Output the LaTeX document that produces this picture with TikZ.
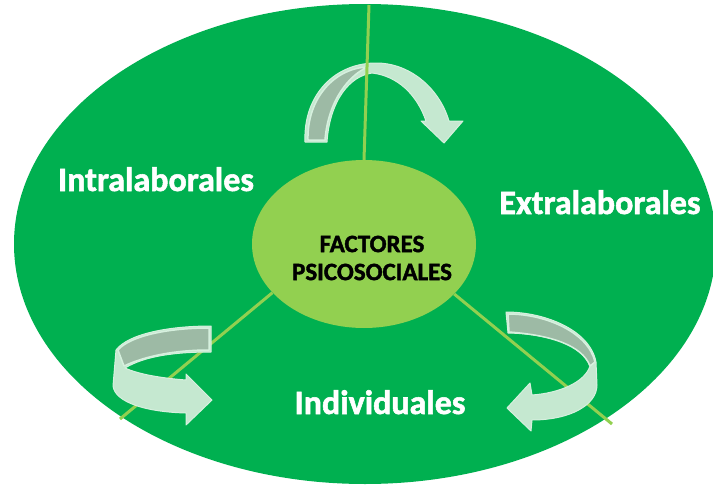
\documentclass[tikz,border=0pt]{standalone}
\usepackage{fontspec}
\setmainfont{Carlito}
\newfontfamily\heavyfont{Carlito}[UprightFont=* Bold, UprightFeatures={FakeBold=1.6}]
\usetikzlibrary{shapes.geometric}
\definecolor{bggreen}{RGB}{0,176,80}
\definecolor{limegreen}{RGB}{146,208,80}
\definecolor{arrowlight}{RGB}{197,232,208}
\definecolor{arrowdark}{RGB}{157,186,165}
\definecolor{arrowedge}{RGB}{214,240,222}
\tikzset{
  outerfield/.style={ellipse, fill=bggreen, minimum width=702pt, minimum height=480pt, inner sep=0pt},
  corefield/.style={ellipse, fill=limegreen, minimum width=224pt, minimum height=168pt, inner sep=0pt},
  titletext/.style={align=center, inner sep=0pt, text=black, font=\heavyfont\fontsize{25}{28}\selectfont},
  spoke/.style={draw=limegreen, line width=3pt},
  factorlabel/.style={text=white, anchor=base, inner sep=0pt, font=\heavyfont\fontsize{34}{34}\selectfont},
  ribbon/.style={fill=arrowlight, draw=arrowedge, line width=1pt, line join=round},
  ribbonback/.style={fill=arrowdark, draw=arrowedge, line width=1.5pt, line join=round},
}
\begin{document}
\begin{tikzpicture}[x=1pt,y=-1pt]
\useasboundingbox (0,0) rectangle (713,490);
\node[outerfield] (field) at (365,244) {};
\node[corefield] (core) at (364,244) {};

% top curved arrow
\path[ribbon] (305,142) .. controls (303,95) and (335,62) .. (378,63)
  .. controls (412,64) and (440,90) .. (449,121)
  -- (463,121) -- (444,143) -- (421,121) -- (426,121)
  .. controls (417,95) and (398,76) .. (372,73)
  .. controls (350,76) and (330,100) .. (327,142) -- cycle;
\path[ribbonback] (308,140) .. controls (307,98) and (335,68) .. (368,67)
  .. controls (350,74) and (328,100) .. (325,140) -- cycle;

% spokes
\coordinate (topEnd) at (369,5);
\coordinate (llEnd) at (120,419);
\coordinate (lrEnd) at (612,424);
\draw[spoke] (topEnd) -- (core.north);
\draw[spoke] (core.208) -- (llEnd);
\draw[spoke] (core.331) -- (lrEnd);

% lower-left curved arrow
\path[ribbon] (211,326) .. controls (168,326) and (128,334) .. (116,350)
  -- (113,386) .. controls (115,402) and (145,412) .. (186,413)
  -- (186,425) -- (212,400) -- (186,374) -- (186,380)
  .. controls (160,378) and (138,374) .. (125,368)
  .. controls (145,356) and (175,352) .. (211,352) -- cycle;
\path[ribbonback] (209,328) .. controls (168,328) and (130,336) .. (118,350)
  -- (124,366) .. controls (145,356) and (175,350) .. (209,350) -- cycle;

% lower-right curved arrow
\path[ribbon] (506,312) .. controls (545,312) and (590,330) .. (596,362)
  -- (597,385) .. controls (597,405) and (570,420) .. (532,420)
  -- (531,431) -- (507,408) -- (530,383) -- (532,395)
  .. controls (560,393) and (585,382) .. (590,366)
  .. controls (582,345) and (550,334) .. (508,333) -- cycle;
\path[ribbonback] (508,314) .. controls (545,314) and (588,332) .. (595,362)
  -- (590,366) .. controls (582,345) and (550,335) .. (509,332) -- cycle;

% texts
\node[titletext] (title) at (372,258) {FACTORES\\PSICOSOCIALES};
\node[factorlabel] (intra) at (156,191) {Intralaborales};
\node[factorlabel] (extra) at (600,214) {Extralaborales};
\node[factorlabel] (indiv) at (380,414) {Individuales};
\end{tikzpicture}
\end{document}
